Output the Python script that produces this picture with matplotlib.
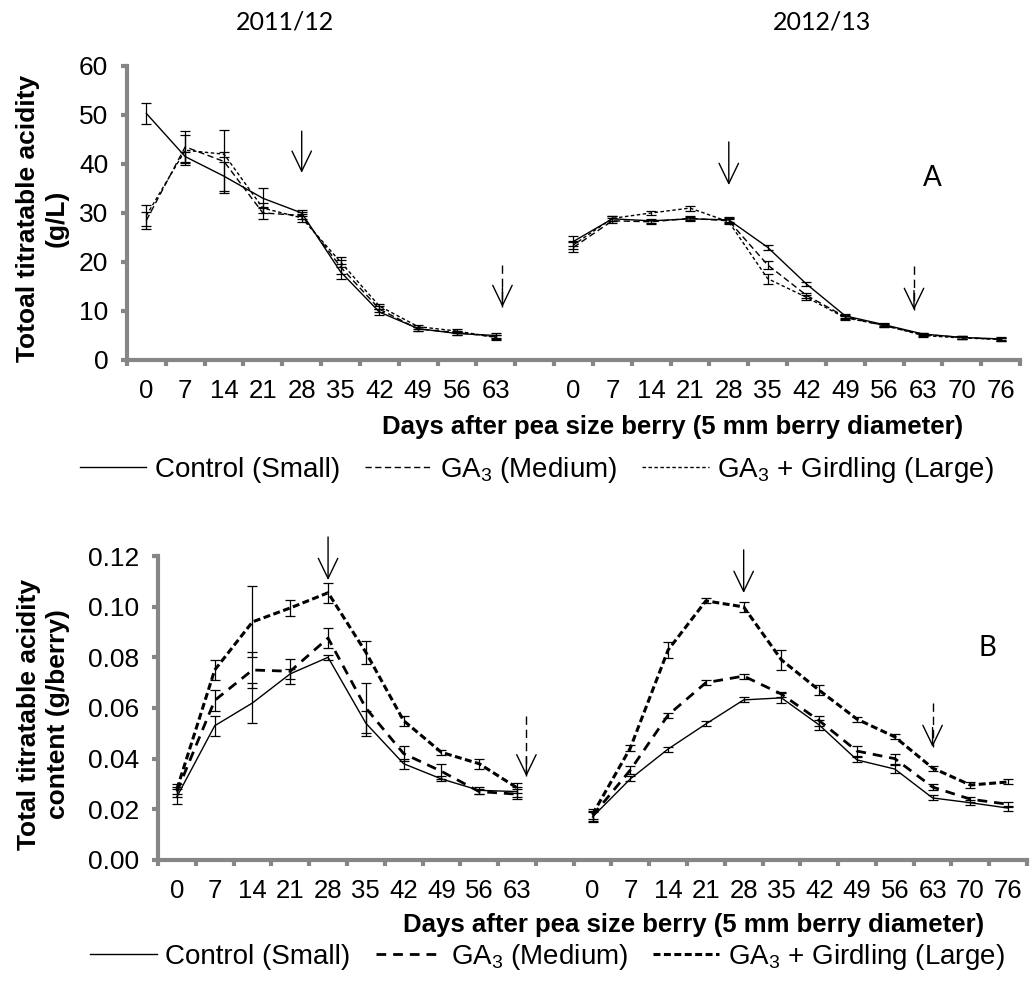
"""Titratable acidity of berries over two seasons, panels A (g/L) and B (g/berry)."""
import numpy as np
import matplotlib.pyplot as plt
from matplotlib.lines import Line2D

plt.rcParams['font.family'] = ['Liberation Sans', 'DejaVu Sans']
plt.rcParams['lines.scale_dashes'] = False

GRAY = '#868686'

# ---- data -------------------------------------------------------------
days_1112 = [0, 7, 14, 21, 28, 35, 42, 49, 56, 63]
days_1213 = [0, 7, 14, 21, 28, 35, 42, 49, 56, 63, 70, 76]
seasons = ['2011/12', '2012/13']
series_names = ['Control (Small)', 'GA$\\mathregular{_3}$ (Medium)',
                'GA$\\mathregular{_3}$ + Girdling (Large)']

# panel A: total titratable acidity (g/L)
a_ctrl_1112 = [50.3, 41.5, 37.5, 33.0, 30.0, 18.0, 9.8, 6.4, 5.4, 5.0]
a_med_1112 = [28.5, 43.5, 40.5, 30.0, 29.5, 19.0, 10.4, 6.3, 5.6, 4.7]
a_lrg_1112 = [29.5, 42.8, 42.0, 31.0, 29.0, 20.0, 11.0, 6.8, 5.9, 4.6]
a_ctrl_1112_err = [2.2, 1.0, 3.0, 2.0, 0.6, 1.5, 0.6, 0.4, 0.4, 0.5]
a_med_1112_err = [1.8, 3.2, 6.5, 1.2, 0.8, 1.5, 0.6, 0.4, 0.4, 0.5]
a_lrg_1112_err = [2.1, 3.1, 0.5, 1.0, 0.8, 1.0, 0.5, 0.4, 0.4, 0.5]

a_ctrl_1213 = [24.2, 28.8, 28.4, 28.8, 28.6, 23.0, 15.5, 9.0, 7.2, 5.3, 4.6, 4.3]
a_med_1213 = [23.0, 28.4, 28.2, 28.9, 28.4, 19.4, 13.2, 8.8, 7.0, 5.2, 4.6, 4.2]
a_lrg_1213 = [23.5, 28.9, 30.0, 31.0, 28.2, 16.6, 12.8, 8.6, 7.1, 5.0, 4.5, 4.2]
a_ctrl_1213_err = [1.0, 0.5, 0.4, 0.4, 0.5, 0.5, 0.5, 0.4, 0.3, 0.3, 0.3, 0.3]
a_med_1213_err = [1.0, 0.5, 0.4, 0.4, 0.5, 0.8, 0.5, 0.4, 0.3, 0.3, 0.3, 0.3]
a_lrg_1213_err = [0.8, 0.5, 0.5, 0.5, 0.5, 1.0, 0.5, 0.4, 0.3, 0.3, 0.3, 0.3]

# panel B: total titratable acidity content (g/berry)
b_ctrl_1112 = [0.025, 0.053, 0.062, 0.0735, 0.080, 0.054, 0.038, 0.032, 0.0275, 0.027]
b_med_1112 = [0.027, 0.063, 0.075, 0.0745, 0.0876, 0.060, 0.042, 0.035, 0.027, 0.026]
b_lrg_1112 = [0.028, 0.075, 0.094, 0.0995, 0.1055, 0.082, 0.055, 0.0425, 0.038, 0.0285]
b_ctrl_1112_err = [0.003, 0.004, 0.008, 0.002, 0.001, 0.005, 0.002, 0.001, 0.0015, 0.002]
b_med_1112_err = [0.002, 0.004, 0.007, 0.005, 0.004, 0.010, 0.003, 0.003, 0.001, 0.002]
b_lrg_1112_err = [0.002, 0.004, 0.014, 0.003, 0.004, 0.0045, 0.002, 0.001, 0.002, 0.002]

b_ctrl_1213 = [0.017, 0.032, 0.0438, 0.0537, 0.0632, 0.064, 0.0533, 0.0395, 0.0359, 0.0245, 0.0226, 0.0205]
b_med_1213 = [0.0175, 0.0355, 0.0572, 0.070, 0.0726, 0.0655, 0.055, 0.043, 0.040, 0.0288, 0.024, 0.022]
b_lrg_1213 = [0.018, 0.0442, 0.0829, 0.1023, 0.0999, 0.079, 0.067, 0.0556, 0.0486, 0.0363, 0.0296, 0.0308]
b_ctrl_1213_err = [0.002, 0.001, 0.001, 0.001, 0.001, 0.002, 0.002, 0.001, 0.0015, 0.001, 0.001, 0.001]
b_med_1213_err = [0.002, 0.0015, 0.001, 0.001, 0.001, 0.001, 0.002, 0.002, 0.002, 0.001, 0.001, 0.001]
b_lrg_1213_err = [0.002, 0.001, 0.003, 0.001, 0.002, 0.004, 0.002, 0.001, 0.001, 0.001, 0.001, 0.001]

# ---- layout helpers -----------------------------------------------------
x_1112 = np.arange(len(days_1112))
x_1213 = np.arange(len(days_1213)) + len(days_1112) + 1
n_cat = len(days_1112) + 1 + len(days_1213)
tick_pos = list(x_1112) + list(x_1213)
tick_lab = [str(d) for d in days_1112] + [str(d) for d in days_1213]


def style_axis(ax, ymax, ystep, fmt):
    for s in ['top', 'right']:
        ax.spines[s].set_visible(False)
    for s in ['left', 'bottom']:
        ax.spines[s].set_color(GRAY)
        ax.spines[s].set_linewidth(3)
    ax.set_xlim(-0.5, n_cat - 0.5)
    ax.set_ylim(0, ymax)
    yt = np.arange(0, ymax + ystep / 2, ystep)
    ax.set_yticks(yt)
    ax.set_yticklabels([fmt.format(v) for v in yt])
    ax.set_xticks(tick_pos)
    ax.set_xticklabels(tick_lab)
    ax.set_xticks(np.arange(-0.5, n_cat, 1), minor=True)
    ax.tick_params(axis='x', which='major', length=0, pad=14, labelsize=18.5)
    ax.tick_params(axis='x', which='minor', length=4.5, width=3, color=GRAY,
                   direction='out')
    ax.tick_params(axis='y', length=4.5, width=3, color=GRAY, pad=9, labelsize=19)


def draw_series(ax, x, y, err, style):
    ax.errorbar(x, y, yerr=err, fmt='none', ecolor='black', elinewidth=0.9,
                capsize=3.6, capthick=0.9, zorder=2)
    ax.plot(x, y, color='black', zorder=3, **style)


def solid_arrow(ax, x, y0, y1):
    ax.annotate('', xy=(x, y1), xytext=(x, y0), annotation_clip=False,
                arrowprops=dict(arrowstyle='->,head_length=1.45,head_width=0.7',
                                lw=1.0, color='black', shrinkA=0, shrinkB=0))


def dashed_arrow(ax, x, y0, y1):
    ax.plot([x, x], [y0, y1], color='black', lw=1.0, dashes=(6, 3.5),
            clip_on=False)
    ax.annotate('', xy=(x, y1), xytext=(0, 14), textcoords='offset points',
                annotation_clip=False,
                arrowprops=dict(arrowstyle='->,head_length=1.45,head_width=0.7',
                                lw=1.0, color='black', shrinkA=0, shrinkB=0))


fig = plt.figure(figsize=(10.35, 9.86), dpi=100)
fig.patch.set_facecolor('white')

# ---- panel A ------------------------------------------------------------
ax_a = fig.add_axes([0.1227, 0.6349, 0.8628, 0.2982])
style_axis(ax_a, 60, 10, '{:.0f}')
styles_a = [dict(lw=1.0, ls='-'),
            dict(lw=1.0, dashes=(4.5, 2.5)),
            dict(lw=1.0, dashes=(2.5, 1.8))]
for y, e, st in zip([a_ctrl_1112, a_med_1112, a_lrg_1112],
                    [a_ctrl_1112_err, a_med_1112_err, a_lrg_1112_err], styles_a):
    draw_series(ax_a, x_1112, y, e, st)
for y, e, st in zip([a_ctrl_1213, a_med_1213, a_lrg_1213],
                    [a_ctrl_1213_err, a_med_1213_err, a_lrg_1213_err], styles_a):
    draw_series(ax_a, x_1213, y, e, st)

solid_arrow(ax_a, 4, 46.7, 38.2)
solid_arrow(ax_a, 15, 44.5, 35.7)
dashed_arrow(ax_a, 9.17, 19.4, 10.8)
dashed_arrow(ax_a, 19.77, 19.2, 10.2)

ax_a.text(-0.0946, 0.483, 'Totoal titratable acidity\n(g/L)', transform=ax_a.transAxes,
          rotation=90, ha='center', va='center', fontsize=19, fontweight='bold',
          linespacing=1.25)
ax_a.text(0.611, -0.228, 'Days after pea size berry (5 mm berry diameter)',
          transform=ax_a.transAxes, ha='center', va='center', fontsize=18.5,
          fontweight='bold')
handles_a = [Line2D([], [], color='black', **st) for st in styles_a]
ax_a.legend(handles_a, series_names, loc='center', bbox_to_anchor=(0.459, -0.374),
            ncol=3, frameon=False, fontsize=20, handlelength=2.4,
            handletextpad=0.3, columnspacing=0.9)

# ---- panel B ------------------------------------------------------------
ax_b = fig.add_axes([0.1527, 0.1278, 0.8396, 0.3083])
style_axis(ax_b, 0.12, 0.02, '{:.2f}')
styles_b = [dict(lw=1.0, ls='-'),
            dict(lw=2.0, dashes=(7, 5)),
            dict(lw=2.2, dashes=(5, 2.5))]
for y, e, st in zip([b_ctrl_1112, b_med_1112, b_lrg_1112],
                    [b_ctrl_1112_err, b_med_1112_err, b_lrg_1112_err], styles_b):
    draw_series(ax_b, x_1112, y, e, st)
for y, e, st in zip([b_ctrl_1213, b_med_1213, b_lrg_1213],
                    [b_ctrl_1213_err, b_med_1213_err, b_lrg_1213_err], styles_b):
    draw_series(ax_b, x_1213, y, e, st)

solid_arrow(ax_b, 4, 0.1275, 0.1105)
solid_arrow(ax_b, 15, 0.1224, 0.1054)
dashed_arrow(ax_b, 9.25, 0.057, 0.033)
dashed_arrow(ax_b, 20, 0.062, 0.0446)

ax_b.text(-0.132, 0.48, 'Total titratable acidity\ncontent (g/berry)',
          transform=ax_b.transAxes, rotation=90, ha='center', va='center',
          fontsize=19, fontweight='bold', linespacing=1.25)
ax_b.text(0.616, -0.214, 'Days after pea size berry (5 mm berry diameter)',
          transform=ax_b.transAxes, ha='center', va='center', fontsize=18.5,
          fontweight='bold')
handles_b = [Line2D([], [], color='black', **st) for st in styles_b]
ax_b.legend(handles_b, series_names, loc='center', bbox_to_anchor=(0.448, -0.319),
            ncol=3, frameon=False, fontsize=20, handlelength=2.4,
            handletextpad=0.3, columnspacing=0.9)

# ---- season titles and panel letters -----------------------------------
fig.text(0.275, 0.978, seasons[0], ha='center', va='center', fontsize=18,
         family=['Lato', 'DejaVu Sans'])
fig.text(0.794, 0.978, seasons[1], ha='center', va='center', fontsize=18,
         family=['Lato', 'DejaVu Sans'])
fig.text(0.9005, 0.8195, 'A', ha='center', va='center', fontsize=20,
         family=['Lato', 'DejaVu Sans'])
fig.text(0.9536, 0.3428, 'B', ha='center', va='center', fontsize=20,
         family=['Lato', 'DejaVu Sans'])

fig.savefig('out.png', dpi=100, facecolor='white')
plt.close(fig)
